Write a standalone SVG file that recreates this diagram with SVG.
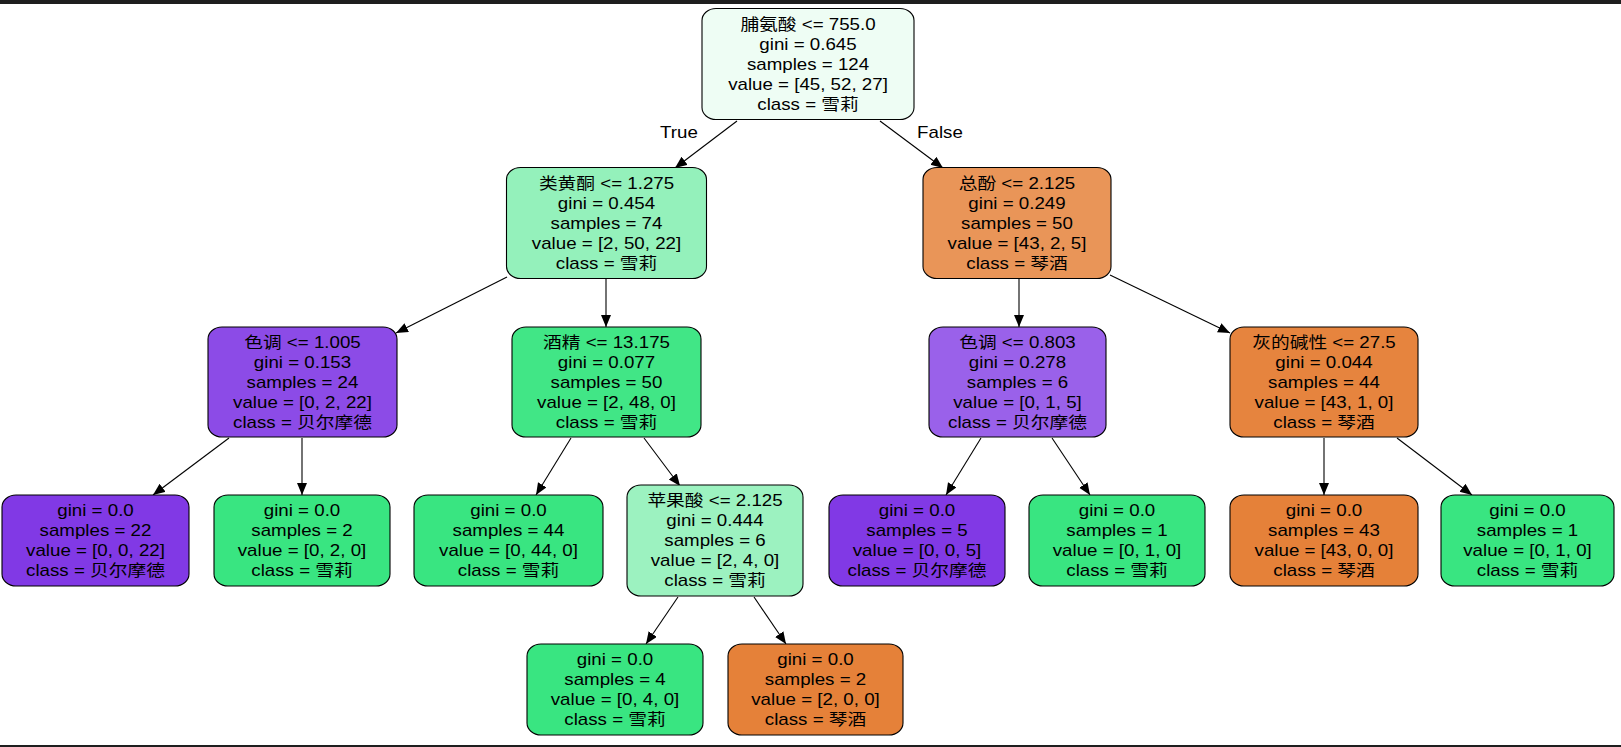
<svg xmlns="http://www.w3.org/2000/svg" width="1621" height="747" viewBox="0 0 1621 747">
<defs>
<style>
.nd{stroke:#000;stroke-width:1.1}
.t{font-family:"Liberation Sans","Noto Sans CJK SC",sans-serif;font-size:16px;fill:#000;text-anchor:middle}
.e{stroke:#000;stroke-width:1.1;fill:none;marker-end:url(#ah)}
.pu{fill:#8139e5}.gr{fill:#39e581}.or{fill:#e58139}
</style>
<marker id="ah" markerUnits="userSpaceOnUse" markerWidth="14" markerHeight="12" refX="12" refY="5" orient="auto">
<path d="M0,0 L12,5 L0,10 z" fill="#000"/>
</marker>
</defs>
<rect x="0" y="0" width="1621" height="747" fill="#fff"/>
<rect x="0" y="0" width="1621" height="4" fill="#1e1e1e"/>
<rect x="0" y="745" width="1621" height="2" fill="#1e1e1e"/>

<g id="edges">
<line class="e" x1="737" y1="121" x2="675" y2="168"/>
<line class="e" x1="880" y1="121" x2="943" y2="168"/>
<line class="e" x1="507" y1="277" x2="396" y2="333"/>
<line class="e" x1="606" y1="279" x2="606" y2="327"/>
<line class="e" x1="1019" y1="279" x2="1019" y2="327"/>
<line class="e" x1="1110" y1="275" x2="1230" y2="333"/>
<line class="e" x1="229" y1="438" x2="153" y2="495"/>
<line class="e" x1="302" y1="438" x2="302" y2="495"/>
<line class="e" x1="571" y1="438" x2="536" y2="495"/>
<line class="e" x1="644" y1="438" x2="680" y2="486"/>
<line class="e" x1="981" y1="438" x2="946" y2="495"/>
<line class="e" x1="1052" y1="438" x2="1090" y2="495"/>
<line class="e" x1="1324" y1="438" x2="1324" y2="495"/>
<line class="e" x1="1397" y1="438" x2="1472" y2="495"/>
<line class="e" x1="678" y1="597" x2="646" y2="644"/>
<line class="e" x1="754" y1="597" x2="786" y2="644"/>
<g transform="translate(679 0) scale(1.17 1)"><text class="t" x="0" y="138">True</text></g>
<g transform="translate(940 0) scale(1.17 1)"><text class="t" x="0" y="138">False</text></g>
</g>

<g id="n0">
<rect class="nd" x="702" y="8.5" width="212" height="111" rx="14" ry="12" fill="#eefdf4"/>
<g transform="translate(808 0) scale(1.17 1)">
<text class="t" x="0" y="30">脯氨酸 &lt;= 755.0</text>
<text class="t" x="0" y="50">gini = 0.645</text>
<text class="t" x="0" y="70">samples = 124</text>
<text class="t" x="0" y="90">value = [45, 52, 27]</text>
<text class="t" x="0" y="110">class = 雪莉</text>
</g>
</g>

<g id="n1">
<rect class="nd" x="506.5" y="167.5" width="200" height="111" rx="14" ry="12" fill="#94f1bb"/>
<g transform="translate(606.5 0) scale(1.17 1)">
<text class="t" x="0" y="189">类黄酮 &lt;= 1.275</text>
<text class="t" x="0" y="209">gini = 0.454</text>
<text class="t" x="0" y="229">samples = 74</text>
<text class="t" x="0" y="249">value = [2, 50, 22]</text>
<text class="t" x="0" y="269">class = 雪莉</text>
</g>
</g>

<g id="n2">
<rect class="nd" x="923" y="167.5" width="188" height="111" rx="14" ry="12" fill="#e99558"/>
<g transform="translate(1017 0) scale(1.17 1)">
<text class="t" x="0" y="189">总酚 &lt;= 2.125</text>
<text class="t" x="0" y="209">gini = 0.249</text>
<text class="t" x="0" y="229">samples = 50</text>
<text class="t" x="0" y="249">value = [43, 2, 5]</text>
<text class="t" x="0" y="269">class = 琴酒</text>
</g>
</g>

<g id="n3">
<rect class="nd" x="208" y="327" width="189" height="110" rx="14" ry="12" fill="#8c4be7"/>
<g transform="translate(302.5 0) scale(1.17 1)">
<text class="t" x="0" y="348">色调 &lt;= 1.005</text>
<text class="t" x="0" y="368">gini = 0.153</text>
<text class="t" x="0" y="388">samples = 24</text>
<text class="t" x="0" y="408">value = [0, 2, 22]</text>
<text class="t" x="0" y="428">class = 贝尔摩德</text>
</g>
</g>

<g id="n4">
<rect class="nd" x="512" y="327" width="189" height="110" rx="14" ry="12" fill="#41e686"/>
<g transform="translate(606.5 0) scale(1.17 1)">
<text class="t" x="0" y="348">酒精 &lt;= 13.175</text>
<text class="t" x="0" y="368">gini = 0.077</text>
<text class="t" x="0" y="388">samples = 50</text>
<text class="t" x="0" y="408">value = [2, 48, 0]</text>
<text class="t" x="0" y="428">class = 雪莉</text>
</g>
</g>

<g id="n5">
<rect class="nd" x="929" y="327" width="177" height="110" rx="14" ry="12" fill="#9a61ea"/>
<g transform="translate(1017.5 0) scale(1.17 1)">
<text class="t" x="0" y="348">色调 &lt;= 0.803</text>
<text class="t" x="0" y="368">gini = 0.278</text>
<text class="t" x="0" y="388">samples = 6</text>
<text class="t" x="0" y="408">value = [0, 1, 5]</text>
<text class="t" x="0" y="428">class = 贝尔摩德</text>
</g>
</g>

<g id="n6">
<rect class="nd" x="1230" y="327" width="188" height="110" rx="14" ry="12" fill="#e6843e"/>
<g transform="translate(1324 0) scale(1.17 1)">
<text class="t" x="0" y="348">灰的碱性 &lt;= 27.5</text>
<text class="t" x="0" y="368">gini = 0.044</text>
<text class="t" x="0" y="388">samples = 44</text>
<text class="t" x="0" y="408">value = [43, 1, 0]</text>
<text class="t" x="0" y="428">class = 琴酒</text>
</g>
</g>

<g id="n7">
<rect class="nd pu" x="2" y="495" width="187" height="91" rx="14" ry="12"/>
<g transform="translate(95.5 0) scale(1.17 1)">
<text class="t" x="0" y="516">gini = 0.0</text>
<text class="t" x="0" y="536">samples = 22</text>
<text class="t" x="0" y="556">value = [0, 0, 22]</text>
<text class="t" x="0" y="576">class = 贝尔摩德</text>
</g>
</g>

<g id="n8">
<rect class="nd gr" x="214" y="495" width="176" height="91" rx="14" ry="12"/>
<g transform="translate(302 0) scale(1.17 1)">
<text class="t" x="0" y="516">gini = 0.0</text>
<text class="t" x="0" y="536">samples = 2</text>
<text class="t" x="0" y="556">value = [0, 2, 0]</text>
<text class="t" x="0" y="576">class = 雪莉</text>
</g>
</g>

<g id="n9">
<rect class="nd gr" x="414" y="495" width="189" height="91" rx="14" ry="12"/>
<g transform="translate(508.5 0) scale(1.17 1)">
<text class="t" x="0" y="516">gini = 0.0</text>
<text class="t" x="0" y="536">samples = 44</text>
<text class="t" x="0" y="556">value = [0, 44, 0]</text>
<text class="t" x="0" y="576">class = 雪莉</text>
</g>
</g>

<g id="n10">
<rect class="nd" x="627" y="485" width="176" height="111" rx="14" ry="12" fill="#9cf2c0"/>
<g transform="translate(715 0) scale(1.17 1)">
<text class="t" x="0" y="506">苹果酸 &lt;= 2.125</text>
<text class="t" x="0" y="526">gini = 0.444</text>
<text class="t" x="0" y="546">samples = 6</text>
<text class="t" x="0" y="566">value = [2, 4, 0]</text>
<text class="t" x="0" y="586">class = 雪莉</text>
</g>
</g>

<g id="n11">
<rect class="nd pu" x="829" y="495" width="176" height="91" rx="14" ry="12"/>
<g transform="translate(917 0) scale(1.17 1)">
<text class="t" x="0" y="516">gini = 0.0</text>
<text class="t" x="0" y="536">samples = 5</text>
<text class="t" x="0" y="556">value = [0, 0, 5]</text>
<text class="t" x="0" y="576">class = 贝尔摩德</text>
</g>
</g>

<g id="n12">
<rect class="nd gr" x="1029" y="495" width="176" height="91" rx="14" ry="12"/>
<g transform="translate(1117 0) scale(1.17 1)">
<text class="t" x="0" y="516">gini = 0.0</text>
<text class="t" x="0" y="536">samples = 1</text>
<text class="t" x="0" y="556">value = [0, 1, 0]</text>
<text class="t" x="0" y="576">class = 雪莉</text>
</g>
</g>

<g id="n13">
<rect class="nd or" x="1230" y="495" width="188" height="91" rx="14" ry="12"/>
<g transform="translate(1324 0) scale(1.17 1)">
<text class="t" x="0" y="516">gini = 0.0</text>
<text class="t" x="0" y="536">samples = 43</text>
<text class="t" x="0" y="556">value = [43, 0, 0]</text>
<text class="t" x="0" y="576">class = 琴酒</text>
</g>
</g>

<g id="n14">
<rect class="nd gr" x="1441" y="495" width="173" height="91" rx="14" ry="12"/>
<g transform="translate(1527.5 0) scale(1.17 1)">
<text class="t" x="0" y="516">gini = 0.0</text>
<text class="t" x="0" y="536">samples = 1</text>
<text class="t" x="0" y="556">value = [0, 1, 0]</text>
<text class="t" x="0" y="576">class = 雪莉</text>
</g>
</g>

<g id="n15">
<rect class="nd gr" x="527" y="644" width="176" height="91" rx="14" ry="12"/>
<g transform="translate(615 0) scale(1.17 1)">
<text class="t" x="0" y="665">gini = 0.0</text>
<text class="t" x="0" y="685">samples = 4</text>
<text class="t" x="0" y="705">value = [0, 4, 0]</text>
<text class="t" x="0" y="725">class = 雪莉</text>
</g>
</g>

<g id="n16">
<rect class="nd or" x="728" y="644" width="175" height="91" rx="14" ry="12"/>
<g transform="translate(815.5 0) scale(1.17 1)">
<text class="t" x="0" y="665">gini = 0.0</text>
<text class="t" x="0" y="685">samples = 2</text>
<text class="t" x="0" y="705">value = [2, 0, 0]</text>
<text class="t" x="0" y="725">class = 琴酒</text>
</g>
</g>
</svg>
